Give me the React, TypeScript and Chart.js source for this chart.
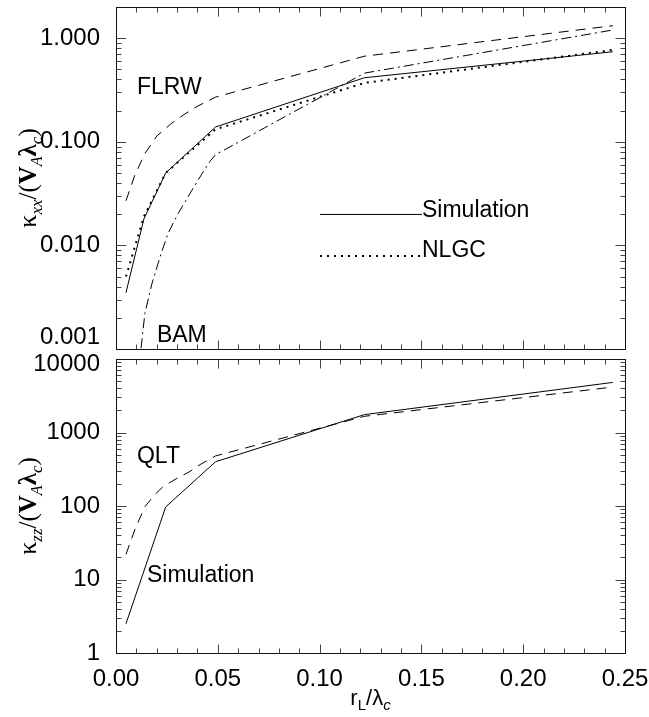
import { useEffect, useRef } from 'react';
import Chart from 'chart.js/auto';

// ---------- data ----------
const simX = [0.0049, 0.0137, 0.0244, 0.0489, 0.122, 0.244];
const simXX = [0.0035, 0.018, 0.05, 0.139, 0.415, 0.74];
const nlgcXX = [0.005, 0.019, 0.05, 0.132, 0.37, 0.77];

const flrwX = [0.0049, 0.0093, 0.0142, 0.0201, 0.0275, 0.0339, 0.0403, 0.0489, 0.122, 0.244];
const flrwXX = [0.027, 0.048, 0.077, 0.114, 0.152, 0.186, 0.222, 0.27, 0.67, 1.32];

const bamX = [0.0123, 0.0142, 0.0177, 0.0216, 0.0255, 0.0305, 0.0363, 0.0422, 0.0462, 0.0489, 0.122, 0.244];
const bamXX = [0.00102, 0.00222, 0.0043, 0.0077, 0.013, 0.0203, 0.0316, 0.049, 0.065, 0.075, 0.46, 1.2];

const simZX = [0.0049, 0.0244, 0.0489, 0.122, 0.244];
const simZZ = [2.5, 97, 400, 1750, 4800];

const qltX = [0.0049, 0.0093, 0.0142, 0.0191, 0.0231, 0.029, 0.0363, 0.0413, 0.0489, 0.122, 0.244];
const qltZZ = [22, 48, 98, 143, 183, 230, 295, 366, 480, 1660, 4150];

const xTickLabels = ['0.00', '0.05', '0.10', '0.15', '0.20', '0.25'];
const topYTickLabels = ['0.001', '0.010', '0.100', '1.000'];
const botYTickLabels = ['1', '10', '100', '1000', '10000'];

// ---------- helpers ----------
const SANS = '"Liberation Sans", Arial, Helvetica, sans-serif';
const SERIF = '"Liberation Serif", "Times New Roman", serif';

const pts = (xs: number[], ys: number[]) => xs.map((x, i) => ({ x, y: ys[i] }));

function logTicks(min: number, max: number) {
  const out: number[] = [];
  for (let e = Math.floor(Math.log10(min)); e <= Math.ceil(Math.log10(max)); e++) {
    for (let k = 1; k <= 9; k++) {
      const v = parseFloat((k * Math.pow(10, e)).toPrecision(6));
      if (v >= min * 0.999 && v <= max * 1.001) out.push(v);
    }
  }
  return out;
}
const isDecade = (v: number) => Math.abs(Math.log10(v) - Math.round(Math.log10(v))) < 1e-6;
const same = (a: number, b: number) => Math.abs(a - b) / Math.abs(b) < 1e-6;

type Seg = { t: string; font: string; dy: number };

function drawSegs(ctx: CanvasRenderingContext2D, segs: Seg[], cx: number, cy: number, rotate: boolean) {
  ctx.save();
  ctx.translate(cx, cy);
  if (rotate) ctx.rotate(-Math.PI / 2);
  ctx.textBaseline = 'alphabetic';
  ctx.textAlign = 'left';
  ctx.fillStyle = '#000';
  let w = 0;
  for (const s of segs) { ctx.font = s.font; w += ctx.measureText(s.t).width; }
  let x = -w / 2;
  for (const s of segs) {
    ctx.font = s.font;
    ctx.fillText(s.t, x, s.dy);
    x += ctx.measureText(s.t).width;
  }
  ctx.restore();
}

function kappaTitle(sub: string): Seg[] {
  return [
    { t: 'κ', font: `26px ${SERIF}`, dy: 0 },
    { t: sub, font: `italic 17px ${SERIF}`, dy: 6 },
    { t: '/(', font: `25px ${SERIF}`, dy: 0 },
    { t: 'V', font: `bold 25px ${SERIF}`, dy: 0 },
    { t: 'A', font: `italic 16px ${SERIF}`, dy: 6 },
    { t: 'λ', font: `bold 25px ${SERIF}`, dy: 0 },
    { t: 'c', font: `italic 17px ${SERIF}`, dy: 6 },
    { t: ')', font: `25px ${SERIF}`, dy: 0 },
  ];
}

type Note = { text: string; x: number; y: number };
type LegendLine = { x0: number; x1: number; y: number; dash: number[]; width: number };

function framePlugin(opts: {
  yTitle: Seg[];
  notes: Note[];
  legendLines?: LegendLine[];
  xTitle?: Seg[];
}) {
  return {
    id: 'frameTicks',
    afterDraw(chart: any) {
      const { ctx, chartArea: a, scales } = chart;
      const xs = scales.x;
      const ys = scales.y;
      const L = Math.round(a.left) + 0.5;
      const R = Math.round(a.right) + 0.5;
      const T = Math.round(a.top) + 0.5;
      const B = Math.round(a.bottom) + 0.5;
      ctx.save();
      const line = (x0: number, y0: number, x1: number, y1: number) => {
        ctx.beginPath(); ctx.moveTo(x0, y0); ctx.lineTo(x1, y1); ctx.stroke();
      };
      ctx.strokeStyle = '#444';
      ctx.lineWidth = 1;
      // x ticks (minor every 0.01, major every 0.05)
      const xMajors = xTickLabels.map(Number);
      const xMax = xMajors[xMajors.length - 1];
      const minorStep = (xMajors[1] - xMajors[0]) / 5;
      const n = Math.round(xMax / minorStep);
      for (let i = 0; i <= n; i++) {
        const px = Math.round(xs.getPixelForValue(i * minorStep)) + 0.5;
        const len = i % 5 === 0 ? 9 : 5;
        line(px, B, px, B - len);
        line(px, T, px, T + len);
      }
      // y ticks
      for (const t of ys.ticks) {
        const py = Math.round(ys.getPixelForValue(t.value)) + 0.5;
        const len = isDecade(t.value) ? 10 : 5;
        line(L, py, L + len, py);
        line(R, py, R - len, py);
      }
      // frame
      ctx.strokeStyle = '#111';
      ctx.strokeRect(L, T, R - L, B - T);

      // legend lines
      ctx.strokeStyle = '#000';
      for (const l of opts.legendLines || []) {
        ctx.save();
        ctx.lineWidth = l.width;
        ctx.setLineDash(l.dash);
        const py = ys.getPixelForValue(l.y);
        line(xs.getPixelForValue(l.x0), py, xs.getPixelForValue(l.x1), py);
        ctx.restore();
      }
      // notes
      ctx.fillStyle = '#000';
      ctx.font = `23px ${SANS}`;
      ctx.textBaseline = 'alphabetic';
      ctx.textAlign = 'left';
      for (const nt of opts.notes) {
        ctx.fillText(nt.text, xs.getPixelForValue(nt.x), ys.getPixelForValue(nt.y));
      }
      ctx.restore();
      // y title
      drawSegs(ctx, opts.yTitle, 36, (a.top + a.bottom) / 2, true);
      // x title
      if (opts.xTitle) {
        drawSegs(ctx, opts.xTitle, (a.left + a.right) / 2, chart.height - 12, false);
      }
    },
  };
}

function yAxis(min: number, max: number, labels: string[], nudgeMin: boolean, nudgeMax: boolean) {
  const decades = labels.map(Number);
  const idx = (value: number) => decades.findIndex((d) => same(value, d));
  return {
    type: 'logarithmic',
    position: 'left',
    min,
    max,
    grid: { display: false },
    border: { display: false },
    afterBuildTicks: (scale: any) => {
      scale.ticks = logTicks(min, max).map((v) => ({ value: v }));
    },
    afterFit: (scale: any) => {
      scale.width = 116;
      scale.paddingTop = 0;
      scale.paddingBottom = 0;
    },
    ticks: {
      autoSkip: false,
      padding: 8,
      color: '#000',
      font: (c: any) => {
        const v = c.tick ? c.tick.value : NaN;
        // end labels nudged inside the panel with a two-line label
        const lh = nudgeMin && same(v, min) ? 24 : nudgeMax && same(v, max) ? 10 : 28;
        return { family: SANS, size: 24, lineHeight: `${lh}px` };
      },
      callback: (value: number) => {
        const i = idx(value);
        if (i < 0) return '';
        if (nudgeMin && same(value, min)) return [labels[i], ''];
        if (nudgeMax && same(value, max)) return ['', labels[i]];
        return labels[i];
      },
    },
  };
}

const lineDs = (label: string, data: any[], dash: number[], width = 1) => ({
  label,
  data,
  borderColor: '#000',
  backgroundColor: '#000',
  borderWidth: width,
  borderDash: dash,
  pointRadius: 0,
  tension: 0,
  fill: false,
});

const TOP_H = 350;
const BOT_H = 367;

export default function App() {
  const topRef = useRef<HTMLCanvasElement>(null);
  const botRef = useRef<HTMLCanvasElement>(null);

  useEffect(() => {
    const xMajors = xTickLabels.map(Number);
    const top = new Chart(topRef.current!, {
      type: 'line',
      data: {
        datasets: [
          lineDs('Simulation', pts(simX, simXX), []),
          lineDs('NLGC', pts(simX, nlgcXX), [2, 5], 2),
          lineDs('FLRW', pts(flrwX, flrwXX), [10, 7]),
          lineDs('BAM', pts(bamX, bamXX), [10, 4, 2, 4]),
        ],
      },
      options: {
        animation: false,
        responsive: false,
        layout: { padding: { top: 7, right: 24, bottom: 1, left: 0 } },
        plugins: { legend: { display: false }, tooltip: { enabled: false } },
        scales: {
          x: { type: 'linear', min: 0, max: 0.25, display: false },
          y: yAxis(0.001, 2, topYTickLabels, true, false) as any,
        },
      },
      plugins: [
        framePlugin({
          yTitle: kappaTitle('xx'),
          notes: [
            { text: 'FLRW', x: 0.0103, y: 0.289 },
            { text: 'BAM', x: 0.0201, y: 0.00117 },
            { text: 'Simulation', x: 0.1503, y: 0.0186 },
            { text: 'NLGC', x: 0.1503, y: 0.00767 },
          ],
          legendLines: [
            { x0: 0.1002, x1: 0.1503, y: 0.0199, dash: [], width: 1 },
            { x0: 0.1002, x1: 0.1503, y: 0.0079, dash: [2, 5], width: 2 },
          ],
        }) as any,
      ],
    });

    const bot = new Chart(botRef.current!, {
      type: 'line',
      data: {
        datasets: [
          lineDs('Simulation', pts(simZX, simZZ), []),
          lineDs('QLT', pts(qltX, qltZZ), [10, 7]),
        ],
      },
      options: {
        animation: false,
        responsive: false,
        layout: { padding: { top: 9, right: 24, bottom: 0, left: 0 } },
        plugins: { legend: { display: false }, tooltip: { enabled: false } },
        scales: {
          x: {
            type: 'linear',
            min: 0,
            max: 0.25,
            grid: { display: false },
            border: { display: false },
            afterBuildTicks: (scale: any) => {
              scale.ticks = xMajors.map((v) => ({ value: v }));
            },
            afterFit: (scale: any) => {
              scale.height = 64;
              scale.paddingLeft = 0;
              scale.paddingRight = 0;
            },
            ticks: {
              autoSkip: false,
              maxRotation: 0,
              padding: 4,
              color: '#000',
              font: { family: SANS, size: 24 },
              callback: (_v: any, i: number) => xTickLabels[i],
            },
          },
          y: yAxis(1, 10000, botYTickLabels, false, true) as any,
        },
      },
      plugins: [
        framePlugin({
          yTitle: kappaTitle('zz'),
          notes: [
            { text: 'QLT', x: 0.0103, y: 385 },
            { text: 'Simulation', x: 0.0152, y: 9.25 },
          ],
          xTitle: [
            { t: 'r', font: `22px ${SANS}`, dy: 0 },
            { t: 'L', font: `15px ${SANS}`, dy: 5 },
            { t: '/λ', font: `22px ${SANS}`, dy: 0 },
            { t: 'c', font: `italic 15px ${SANS}`, dy: 5 },
          ],
        }) as any,
      ],
    });

    return () => {
      top.destroy();
      bot.destroy();
    };
  }, []);

  return (
    <div style={{ position: 'absolute', left: 0, top: 0, width: 649, height: 717, background: '#fff' }}>
      <canvas ref={topRef} width={649} height={TOP_H} style={{ position: 'absolute', left: 0, top: 0, display: 'block' }} />
      <canvas ref={botRef} width={649} height={BOT_H} style={{ position: 'absolute', left: 0, top: TOP_H, display: 'block' }} />
    </div>
  );
}
